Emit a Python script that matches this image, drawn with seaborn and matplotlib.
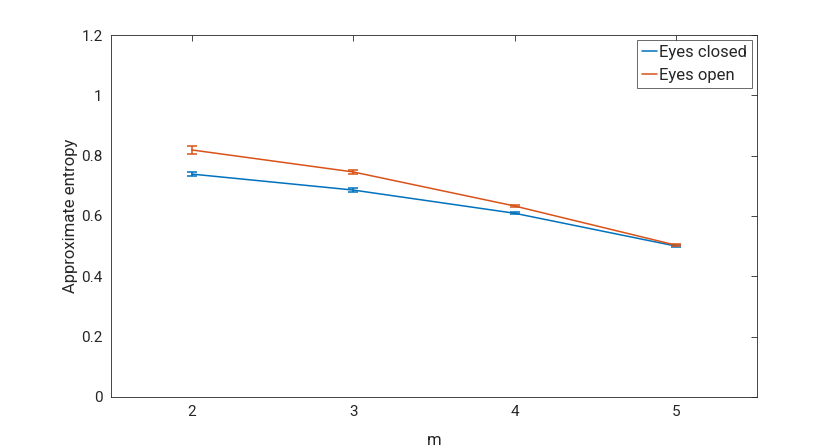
import numpy as np
import pandas as pd
import seaborn as sns
import matplotlib.pyplot as plt

# Data
m_values = [2, 3, 4, 5]
closed_mean = [0.739, 0.686, 0.609, 0.500]
closed_err = [0.008, 0.007, 0.004, 0.003]
open_mean = [0.819, 0.746, 0.633, 0.503]
open_err = [0.012, 0.006, 0.004, 0.003]

df = pd.DataFrame({
    "m": m_values * 2,
    "ApEn": closed_mean + open_mean,
    "err": closed_err + open_err,
    "Condition": ["Eyes closed"] * 4 + ["Eyes open"] * 4,
})

sns.set_style("white")
plt.rcParams['font.family'] = ['Roboto', 'DejaVu Sans']
plt.rcParams['xtick.direction'] = 'in'
plt.rcParams['ytick.direction'] = 'in'

colors = {"Eyes closed": "#0072BD", "Eyes open": "#D95319"}
axcol = "#262626"

fig = plt.figure(figsize=(8.37, 4.47), dpi=100)
ax = fig.add_axes([0.1326, 0.1119, 0.7718, 0.8098])

sns.lineplot(data=df, x="m", y="ApEn", hue="Condition", palette=colors,
             linewidth=1.1, ax=ax, errorbar=None)
for name, grp in df.groupby("Condition"):
    ax.errorbar(grp["m"], grp["ApEn"], yerr=grp["err"], fmt="none",
                ecolor=colors[name], elinewidth=1.1, capsize=3.5, capthick=1.1)

ax.set_xlim(1.5, 5.5)
ax.set_ylim(0, 1.2)
ax.set_xticks(m_values)
ax.set_yticks([0, 0.2, 0.4, 0.6, 0.8, 1.0, 1.2])
ax.set_yticklabels(["0", "0.2", "0.4", "0.6", "0.8", "1", "1.2"])
ax.set_xlabel("m", fontsize=12, color=axcol, labelpad=10)
ax.set_ylabel("Approximate entropy", fontsize=12, color=axcol, labelpad=2)
ax.tick_params(labelsize=11, colors=axcol, length=4, width=0.6, pad=6,
               top=True, right=True)
for s in ax.spines.values():
    s.set_color(axcol)
    s.set_linewidth(0.6)

leg = ax.legend(loc="upper right", fontsize=12, frameon=True, fancybox=False,
                edgecolor=axcol, handlelength=0.9, handletextpad=0.15,
                borderpad=0.3, labelspacing=0.45, borderaxespad=0.3, title=None)
leg.get_frame().set_linewidth(0.6)

fig.savefig("out.png", dpi=100)
